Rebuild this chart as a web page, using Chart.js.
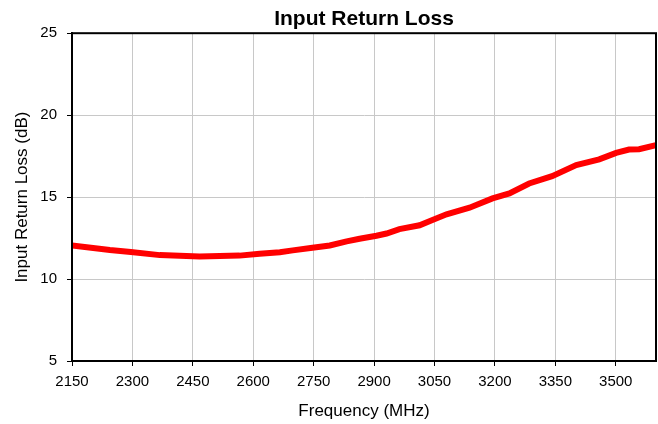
<!DOCTYPE html>
<html>
<head>
<meta charset="utf-8">
<script src="https://cdn.jsdelivr.net/npm/chart.js@4"></script>
<style>
  html, body { margin: 0; padding: 0; background: #fff; }
  #wrap { width: 658px; height: 424px; }
</style>
</head>
<body>
<div id="wrap"><canvas id="myChart"></canvas></div>
<script>
// values
const freq = [2150, 2244, 2296, 2368, 2467, 2566, 2616, 2666, 2698, 2747, 2790, 2832, 2864, 2906, 2931, 2963, 3013, 3045, 3080, 3137, 3194, 3236, 3285, 3342, 3402, 3459, 3501, 3533, 3558, 3600]
const returnLoss = [12.05, 11.77, 11.65, 11.46, 11.37, 11.43, 11.55, 11.64, 11.75, 11.91, 12.05, 12.3, 12.46, 12.64, 12.78, 13.05, 13.28, 13.6, 13.95, 14.35, 14.92, 15.22, 15.83, 16.28, 16.95, 17.3, 17.7, 17.9, 17.92, 18.17]
const xTicks = [2150, 2300, 2450, 2600, 2750, 2900, 3050, 3200, 3350, 3500]
const yTicks = [5, 10, 15, 20, 25]

Chart.defaults.font.family = "'Liberation Sans', Arial, sans-serif"
Chart.defaults.color = '#000'

// black frame around the plot area
const frame = {
    id: 'frame',
    afterDatasetsDraw(chart) {
        const a = chart.chartArea
        const c = chart.ctx
        c.save()
        c.strokeStyle = '#000'
        c.lineWidth = 2
        c.strokeRect(a.left, a.top, a.right - a.left, a.bottom - a.top)
        c.restore()
    }
}

let ctx = document.getElementById('myChart')
let myChart = new Chart(ctx, {
    type: 'line',
    data: {
        datasets: [
            {
                label: 'Input Return Loss',
                data: freq.map((f, i) => ({ x: f, y: returnLoss[i] })),
                borderColor: '#ff0000',
                borderWidth: 6,
                pointRadius: 0,
                tension: 0,
            }
        ]
    },
    options: {
        responsive: true,
        maintainAspectRatio: false,
        animation: false,
        layout: {
            padding: { right: 2 }
        },
        plugins: {
            legend: { display: false },
            tooltip: { enabled: false },
            title: {
                display: true,
                text: 'Input Return Loss',
                fullSize: false,
                font: { size: 21, weight: 'bold' },
                padding: { top: 7, bottom: 1 },
            },
        },
        scales: {
            x: {
                type: 'linear',
                min: 2150,
                max: 3600,
                afterBuildTicks: scale => {
                    scale.ticks = xTicks.map(v => ({ value: v }))
                },
                afterFit: scale => { scale.height = 63 },
                ticks: {
                    font: { size: 15 },
                    padding: 7,
                    maxRotation: 0,
                    autoSkip: false,
                    callback: v => String(v),
                },
                grid: {
                    color: '#c8c8c8',
                    tickColor: '#000',
                    tickLength: 5,
                },
                border: { color: '#000', width: 2 },
                title: {
                    display: true,
                    text: 'Frequency (MHz)',
                    font: { size: 17 },
                    padding: { top: 2, bottom: 2 },
                },
            },
            y: {
                min: 5,
                max: 25,
                afterBuildTicks: scale => {
                    scale.ticks = yTicks.map(v => ({ value: v }))
                },
                afterFit: scale => { scale.width = 72 },
                ticks: {
                    font: { size: 15 },
                    padding: 10,
                    callback: v => String(v),
                },
                grid: {
                    color: '#c8c8c8',
                    tickColor: '#000',
                    tickLength: 5,
                },
                border: { color: '#000', width: 2 },
                title: {
                    display: true,
                    text: 'Input Return Loss (dB)',
                    font: { size: 17 },
                    padding: { top: 12, bottom: 2 },
                },
            },
        }
    },
    plugins: [frame],
});
</script>
</body>
</html>
